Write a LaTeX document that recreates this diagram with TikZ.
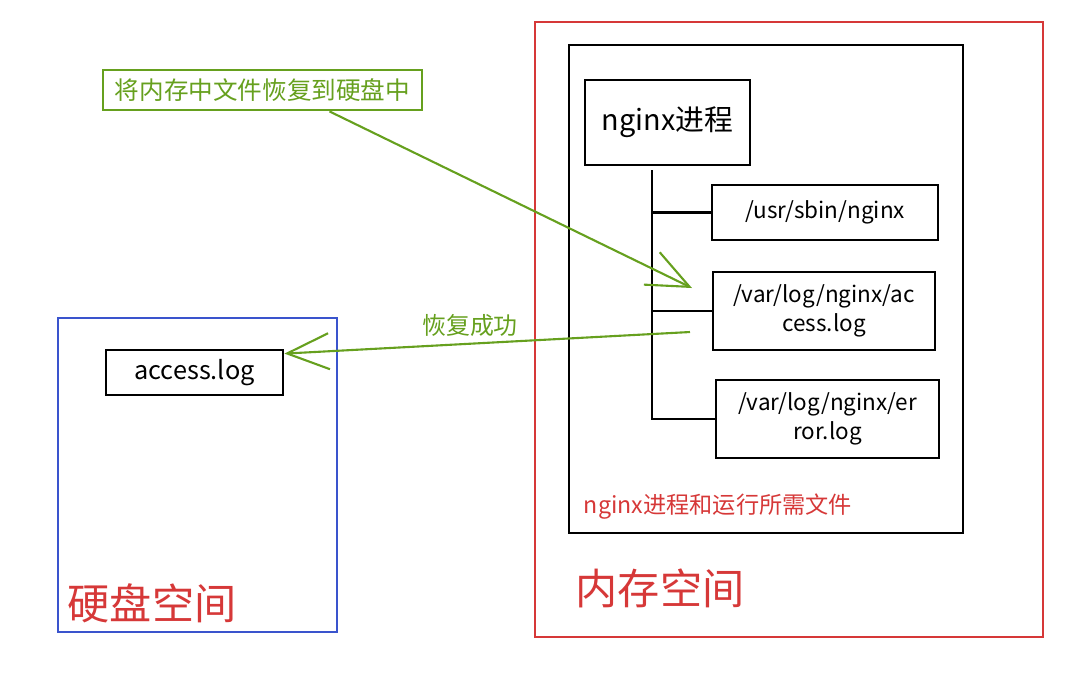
\documentclass[tikz,border=0pt]{standalone}
\usepackage{fontspec}
\setmainfont{Noto Sans CJK SC}
\usetikzlibrary{arrows.meta}
\definecolor{memred}{RGB}{214,56,56}
\definecolor{diskblue}{RGB}{58,84,205}
\definecolor{tipgreen}{RGB}{102,160,30}
\tikzset{
  filebox/.style={draw, line width=0.8pt, inner sep=0pt, align=center, font=\fontsize{6.4}{8.4}\selectfont},
  greenarrow/.style={draw=tipgreen, line width=0.6pt, -{Straight Barb[length=4.2mm,width=3.6mm]}}
}
\begin{document}
\begin{tikzpicture}

\useasboundingbox (0,0) rectangle (10.8,-6.8);

% ---------- memory space ----------
\draw[memred, line width=0.8pt] (5.35,-0.22) rectangle (10.43,-6.37);
\draw[line width=0.8pt] (5.69,-0.45) rectangle (9.63,-5.33);

\node[filebox, minimum width=1.65cm, minimum height=0.85cm, font=\fontsize{8.2}{10}\selectfont] (proc) at (6.675,-1.225) {nginx进程};
\node[filebox, minimum width=2.26cm, minimum height=0.55cm] (sbin) at (8.25,-2.125) {/usr/sbin/nginx};
\node[filebox, minimum width=2.22cm, minimum height=0.78cm] (acc) at (8.24,-3.11) {/var/log/nginx/ac\\cess.log};
\node[filebox, minimum width=2.23cm, minimum height=0.78cm] (err) at (8.275,-4.19) {/var/log/nginx/er\\ror.log};

\coordinate (trunk) at (6.52,-1.70);
\coordinate (trunkend) at (6.52,-4.20);
\draw[line width=0.8pt] (trunk) -- (trunkend);
\draw[line width=0.8pt] (sbin.west -| trunk) -- (sbin.west);
\draw[line width=0.8pt] (acc.west -| trunk) -- (acc.west);
\draw[line width=0.8pt] (err.west -| trunk) -- (err.west);

\node[memred, font=\fontsize{6.6}{8}\selectfont] (memnote) at (7.18,-5.07) {nginx进程和运行所需文件};
\node[memred, font=\fontsize{12}{14}\selectfont] (memname) at (6.6,-5.88) {内存空间};

% ---------- disk space ----------
\draw[diskblue, line width=0.8pt] (0.58,-3.18) rectangle (3.37,-6.32);
\node[filebox, minimum width=1.77cm, minimum height=0.45cm, font=\fontsize{7.2}{9}\selectfont] (file) at (1.945,-3.725) {access.log};
\node[memred, font=\fontsize{12}{14}\selectfont] (diskname) at (1.52,-6.03) {硬盘空间};

% ---------- restore ----------
\node[draw=tipgreen, line width=0.8pt, text=tipgreen, minimum width=3.19cm, minimum height=0.40cm, inner sep=0pt, font=\fontsize{7}{8}\selectfont] (task) at (2.625,-0.90) {将内存中文件恢复到硬盘中};
\coordinate (tipA) at (6.92,-2.88);
\draw[greenarrow] ([xshift=0.67cm]task.south) -- (tipA);

\coordinate (tailB) at (6.90,-3.32);
\draw[greenarrow] (tailB) -- ([yshift=-0.05cm]file.north east);
\node[text=tipgreen, font=\fontsize{6.8}{8}\selectfont] (done) at (4.70,-3.25) {恢复成功};

\end{tikzpicture}
\end{document}
